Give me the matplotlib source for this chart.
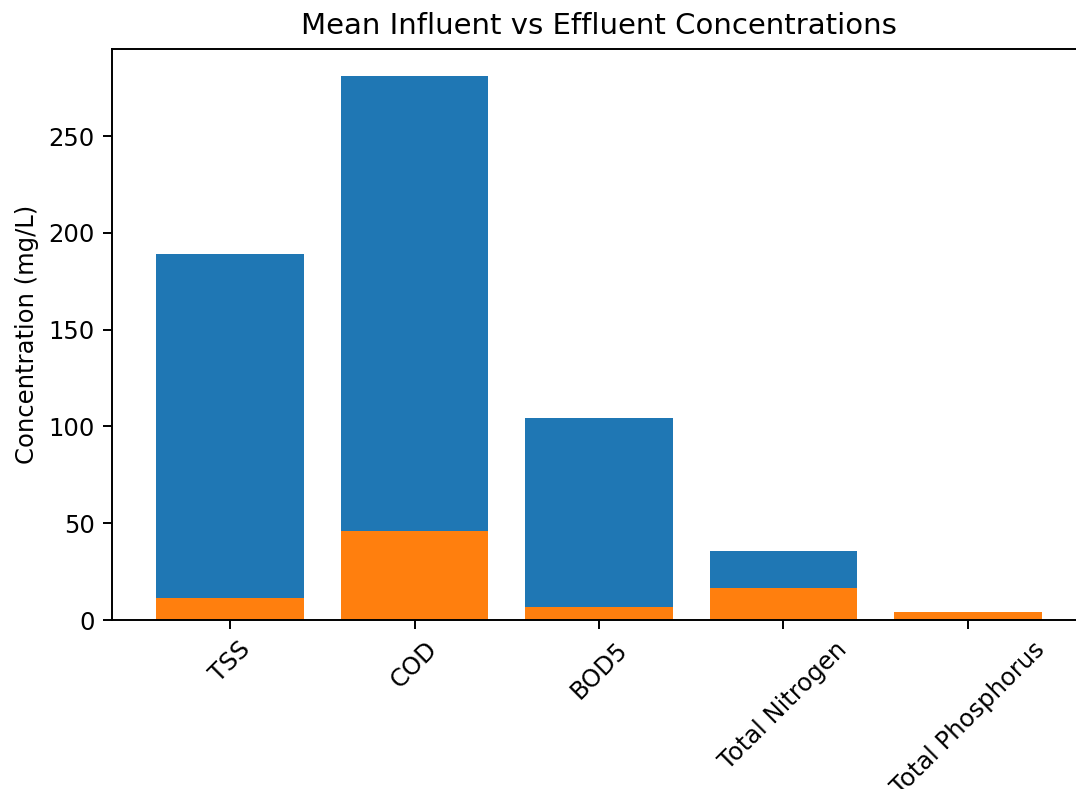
import matplotlib
matplotlib.use("Agg")
import matplotlib.pyplot as plt

# 항목별 평균 농도 (mg/L)
params = ["TSS", "COD", "BOD5", "Total Nitrogen", "Total Phosphorus"]
influent = [189, 281, 104.6, 35.7, 4.1]
effluent = [11.2, 46.2, 6.6, 16.7, 4.0]

s = 1.75
fig = plt.figure(figsize=(1076 / (100 * s), 789 / (100 * s)), dpi=100 * s)
# 오른쪽 축선은 그림 밖으로 잘려 나감
ax = fig.add_axes([112 / 1076, 169 / 789, 974 / 1076, 571 / 789])

ax.bar(params, influent, label="Influent")
ax.bar(params, effluent, label="Effluent")

ax.set_title("Mean Influent vs Effluent Concentrations")
ax.set_ylabel("Concentration (mg/L)")
plt.xticks(rotation=45)

fig.savefig("out.png", dpi=100 * s)
